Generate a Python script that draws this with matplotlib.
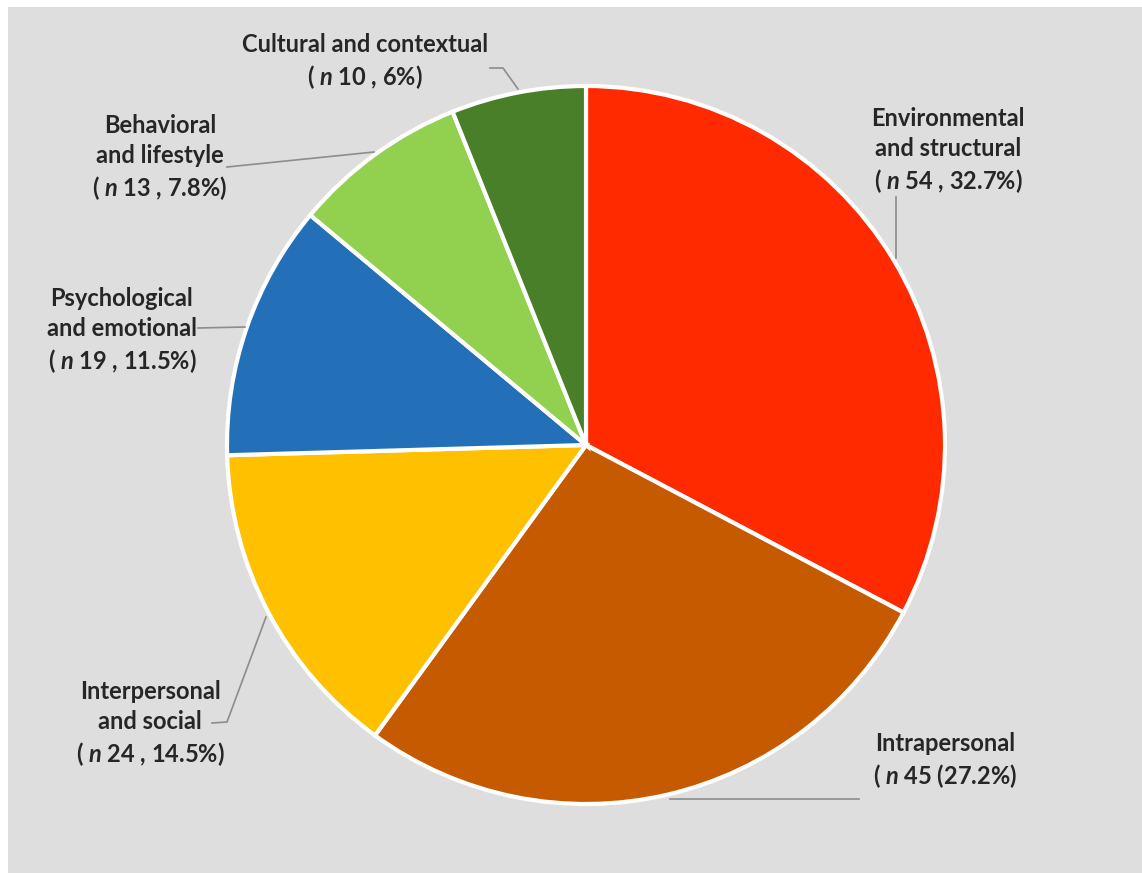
import matplotlib
matplotlib.use('Agg')
import matplotlib.pyplot as plt
from matplotlib.patches import Rectangle
from matplotlib.lines import Line2D

categories = ['Environmental\nand structural', 'Intrapersonal', 'Interpersonal\nand social',
              'Psychological\nand emotional', 'Behavioral\nand lifestyle', 'Cultural and contextual']
counts = [54, 45, 24, 19, 13, 10]
percents = ['32.7%', '27.2%', '14.5%', '11.5%', '7.8%', '6%']
colors = ['#ff2a00', '#c55a00', '#ffc000', '#2370b8', '#92d050', '#4a7f2a']

plt.rcParams['mathtext.fontset'] = 'custom'
plt.rcParams['mathtext.it'] = 'Lato:italic:bold'
plt.rcParams['mathtext.rm'] = 'Lato:bold'

W, H = 1142, 873
fig = plt.figure(figsize=(W / 100, H / 100), dpi=100)
fig.patch.set_facecolor('white')
fig.patches.append(Rectangle((8 / W, 0), 1, 1 - 7 / H, transform=fig.transFigure,
                             facecolor='#dedede', edgecolor='none', zorder=-5))

# pie centre and radius in pixels
cx, cy, r = 586, 445, 359
ax = fig.add_axes([(cx - r) / W, (H - cy - r) / H, 2 * r / W, 2 * r / H])
ax.set_zorder(3)
ax.pie(counts, colors=colors, startangle=90, counterclock=False, radius=1,
       wedgeprops=dict(edgecolor='white', linewidth=3))
ax.set_xlim(-1, 1)
ax.set_ylim(-1, 1)
ax.set_aspect('equal')
ax.axis('off')

def fx(x):
    return x / W

def fy(y):
    return 1 - y / H

# label text centre (pixels) and leader line path (pixels)
label_pos = [(948, 151), (945, 761), (150, 724), (122, 331), (160, 158), (365, 62)]
leaders = [
    [(896, 197), (896, 258)],
    [(670, 799), (859, 799)],
    [(212, 723), (227, 722), (266, 617)],
    [(198, 328), (245, 327)],
    [(227, 167), (374, 152)],
    [(490, 68), (503, 68), (518, 89)],
]

for i, (cat, n, p) in enumerate(zip(categories, counts, percents)):
    if i == 1:
        txt = f'{cat}\n( $\\mathit{{n}}$ {n} ({p})'
    else:
        txt = f'{cat}\n( $\\mathit{{n}}$ {n} , {p})'
    x, y = label_pos[i]
    fig.text(fx(x), fy(y), txt, ha='center', va='center', fontsize=17,
             fontfamily='Lato', fontweight='bold', color='#262626',
             linespacing=1.36, multialignment='center', zorder=4)
    pts = leaders[i]
    fig.lines.append(Line2D([fx(a) for a, b in pts], [fy(b) for a, b in pts],
                            transform=fig.transFigure, color='#8c8c8c', linewidth=1.2,
                            zorder=4))

fig.savefig('out.png', dpi=100)
